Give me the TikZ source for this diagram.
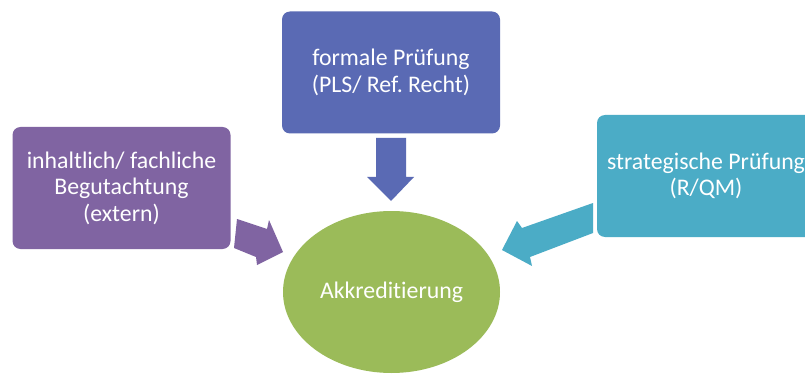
\documentclass[tikz,border=0pt]{standalone}
\usepackage{fontspec}
\setmainfont{Carlito}[Ligatures=NoCommon]
\frenchspacing
\usetikzlibrary{shapes.geometric}
\definecolor{cpurple}{RGB}{128,100,162}
\definecolor{cblue}{RGB}{90,106,180}
\definecolor{cteal}{RGB}{75,172,198}
\definecolor{cgreen}{RGB}{155,187,89}
\tikzset{
  box/.style={rounded corners=8pt, minimum width=218pt, minimum height=122pt, inner sep=0pt,
    text=white, align=center, font=\fontsize{23.8}{26.5}\selectfont},
}
\begin{document}
\begin{tikzpicture}[x=1pt,y=-1pt]
\useasboundingbox (0,0) rectangle (805,374);
\fill[white] (0,0) rectangle (805,374);
% boxes
\node[box, fill=cpurple] (left) at (121.5,188) {inhaltlich/ fachliche\\Begutachtung\\(extern)};
\node[box, fill=cblue] (top) at (391,72.5) {formale Prüfung\\(PLS/ Ref. Recht)};
\node[box, fill=cteal] (right) at (706,176) {strategische Prüfung\\(R/QM)};
\node[ellipse, fill=cgreen, minimum width=217pt, minimum height=162pt, inner sep=0pt,
  text=white, font=\fontsize{23.8}{26.5}\selectfont] (acc) at (391.5,292) {Akkreditierung};
% arrows
\fill[cpurple] (237,219) -- (267,229) -- (269,220) -- (283,252) -- (257,265) -- (256,257) -- (234,248) -- cycle;
\fill[cblue] (376,138) -- (406,138) -- (406,177) -- (414,177) -- (391,201) -- (367,177) -- (376,177) -- cycle;
\fill[cteal] (593,203) -- (522,228) -- (517,221) -- (502,250) -- (532,266) -- (530,257) -- (593,233) -- cycle;
\end{tikzpicture}
\end{document}
